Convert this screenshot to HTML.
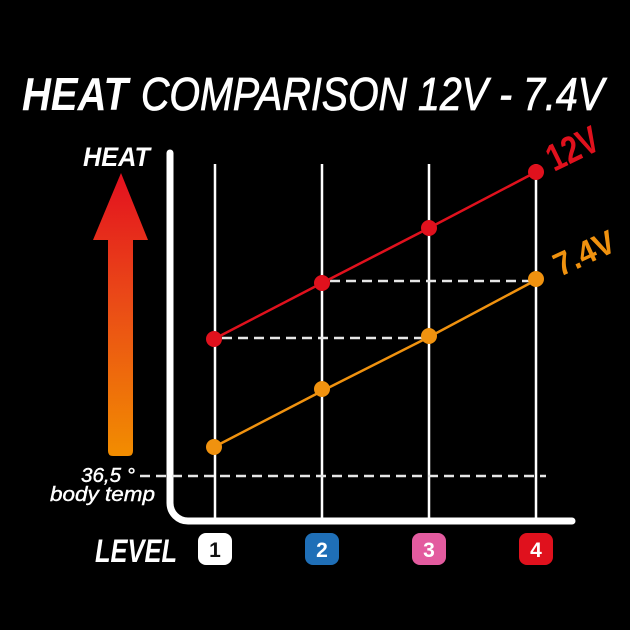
<!DOCTYPE html>
<html><head><meta charset="utf-8"><style>
html,body{margin:0;padding:0;background:#000;}
svg{display:block;}
</style></head><body>
<svg width="630" height="630" viewBox="0 0 630 630" xmlns="http://www.w3.org/2000/svg">
<defs>
<linearGradient id="ag" x1="0" y1="173" x2="0" y2="456" gradientUnits="userSpaceOnUse">
<stop offset="0" stop-color="#e3101f"/>
<stop offset="0.45" stop-color="#ea4a17"/>
<stop offset="1" stop-color="#f28d00"/>
</linearGradient>
</defs>
<rect width="630" height="630" fill="#000"/>
<!-- title -->
<text x="22" y="110" font-family="Liberation Sans, sans-serif" font-style="italic" font-weight="bold" font-size="46" fill="#fff" textLength="106" lengthAdjust="spacingAndGlyphs">HEAT</text>
<text x="141" y="110" font-family="Liberation Sans, sans-serif" font-style="italic" font-size="46" fill="#fff" stroke="#fff" stroke-width="0.8" textLength="463" lengthAdjust="spacingAndGlyphs">COMPARISON 12V - 7.4V</text>
<!-- heat label + arrow -->
<text x="83" y="166" font-family="Liberation Sans, sans-serif" font-style="italic" font-weight="bold" font-size="27" fill="#fff" textLength="67" lengthAdjust="spacingAndGlyphs">HEAT</text>
<path d="M121,173 L148,240 L133,240 L133,451 Q133,456 128,456 L113,456 Q108,456 108,451 L108,240 L93,240 Z" fill="url(#ag)"/>
<!-- grid lines -->
<g stroke="#fff" stroke-width="2.5">
<line x1="215" y1="164" x2="215" y2="521"/>
<line x1="322" y1="164" x2="322" y2="521"/>
<line x1="429" y1="164" x2="429" y2="521"/>
<line x1="536" y1="164" x2="536" y2="521"/>
</g>
<!-- axes -->
<path d="M170,153 L170,503 A18,18 0 0 0 188,521 L572,521" fill="none" stroke="#fff" stroke-width="7" stroke-linecap="round"/>
<!-- dashed lines -->
<g stroke="#e6e6e6" stroke-width="2.5" stroke-dasharray="10 6" fill="none">
<line x1="140" y1="476" x2="546" y2="476"/>
<line x1="222" y1="338" x2="429" y2="338"/>
<line x1="330" y1="281" x2="536" y2="281"/>
</g>
<!-- body temp -->
<text x="81" y="482" font-family="Liberation Sans, sans-serif" font-style="italic" font-size="20" fill="#fff" stroke="#fff" stroke-width="0.4" textLength="54" lengthAdjust="spacingAndGlyphs">36,5 °</text>
<text x="50" y="501" font-family="Liberation Sans, sans-serif" font-style="italic" font-size="20" fill="#fff" stroke="#fff" stroke-width="0.4" textLength="105" lengthAdjust="spacingAndGlyphs">body temp</text>
<!-- series -->
<polyline points="214,447 322,391 429,337 536,280" fill="none" stroke="#f0920f" stroke-width="2.5"/>
<polyline points="214,339 322,283 429,228 536,172" fill="none" stroke="#e0111d" stroke-width="2.5"/>
<g fill="#f0920f">
<circle cx="214" cy="447" r="8"/><circle cx="322" cy="389" r="8"/><circle cx="429" cy="336" r="8"/><circle cx="536" cy="279" r="8"/>
</g>
<g fill="#e0111d">
<circle cx="214" cy="339" r="8"/><circle cx="322" cy="283" r="8"/><circle cx="429" cy="228" r="8"/><circle cx="536" cy="172" r="8"/>
</g>
<text transform="translate(554,172) rotate(-26)" font-family="Liberation Sans, sans-serif" font-weight="bold" font-size="38" fill="#e0111d" textLength="54" lengthAdjust="spacingAndGlyphs">12V</text>
<text transform="translate(560,277) rotate(-25)" font-family="Liberation Sans, sans-serif" font-weight="bold" font-size="33" fill="#f0920f" textLength="64" lengthAdjust="spacingAndGlyphs">7.4V</text>
<!-- level labels -->
<text x="95" y="562" font-family="Liberation Sans, sans-serif" font-style="italic" font-weight="bold" font-size="32" fill="#fff" textLength="82" lengthAdjust="spacingAndGlyphs">LEVEL</text>
<rect x="198" y="533" width="34" height="32" rx="8" fill="#fff"/>
<rect x="305" y="533" width="34" height="32" rx="8" fill="#1f6fb7"/>
<rect x="412" y="533" width="34" height="32" rx="8" fill="#e35b9f"/>
<rect x="519" y="533" width="34" height="32" rx="8" fill="#e0111d"/>
<g font-family="Liberation Sans, sans-serif" font-weight="bold" font-size="21" text-anchor="middle">
<text x="215" y="557" fill="#111">1</text>
<text x="322" y="557" fill="#fff">2</text>
<text x="429" y="557" fill="#fff">3</text>
<text x="536" y="557" fill="#fff">4</text>
</g>
</svg>
</body></html>
